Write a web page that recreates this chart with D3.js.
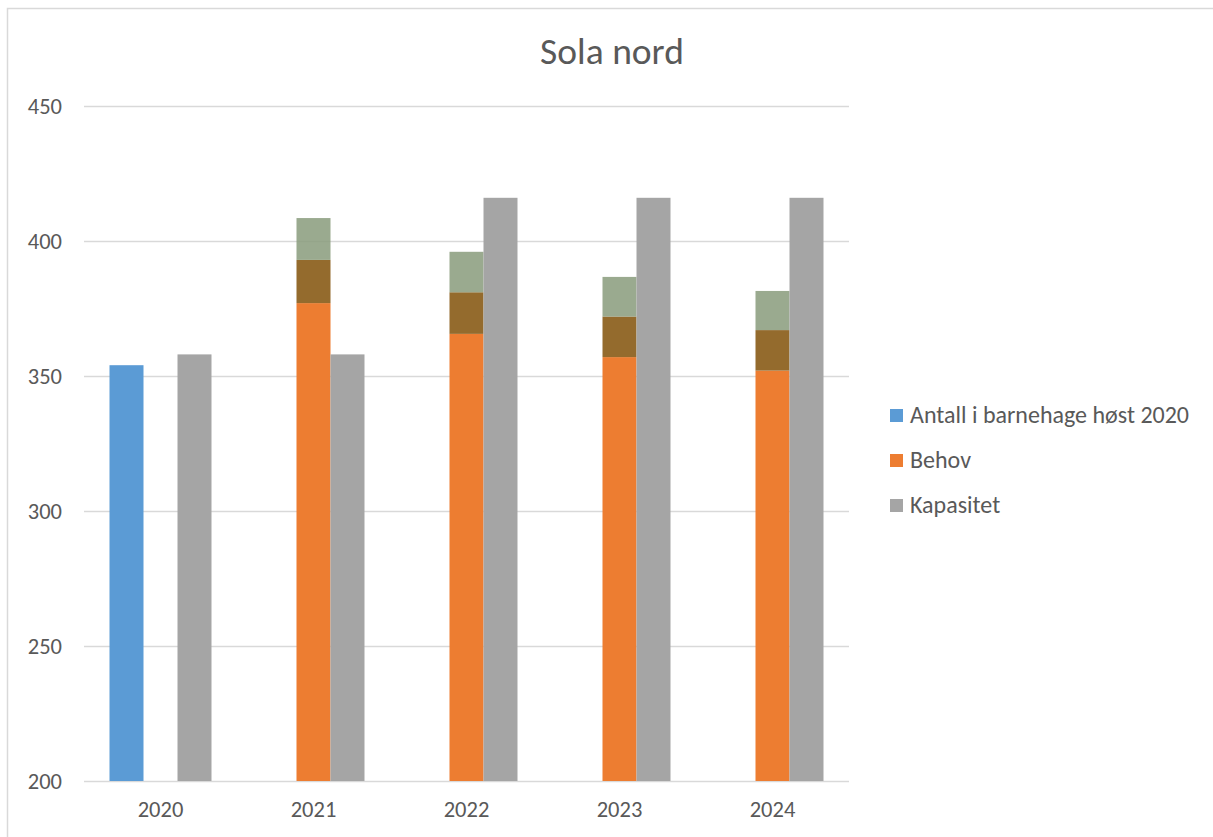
<!DOCTYPE html>
<html>
<head>
<meta charset="utf-8">
<script src="https://cdnjs.cloudflare.com/ajax/libs/d3/7.8.5/d3.min.js"></script>
<style>
  html, body { margin: 0; padding: 0; background: #fff; }
  svg { display: block; font-family: Carlito, "Open Sans", "Noto Sans", sans-serif; }
</style>
</head>
<body>
<svg id="chart" width="1213" height="837"></svg>
<script>
const categories = ["2020", "2021", "2022", "2023", "2024"];
const antall = [354, null, null, null, null];
const behov = [null, 377, 365.6, 357, 352];
const behovLevel2 = [null, 393, 381, 372, 367];
const behovLevel3 = [null, 408.5, 396, 386.7, 381.5];
const kapasitet = [358, 358, 416, 416, 416];
const yTicks = [200, 250, 300, 350, 400, 450];
const legendLabels = ["Antall i barnehage høst 2020", "Behov", "Kapasitet"];
const colors = ["#5b9bd5", "#ed7d31", "#a5a5a5"];

const svg = d3.select("#chart");
const W = 1213, H = 837;

// outer chart border
svg.append("rect").attr("x", 7.5).attr("y", 8.5).attr("width", W).attr("height", H)
  .attr("fill", "none").attr("stroke", "#d9d9d9").attr("stroke-width", 1.5);

const plot = { left: 84, right: 849, top: 106, bottom: 781 };

const x = d3.scaleBand().domain(categories).range([plot.left, plot.right]).paddingInner(0).paddingOuter(0);
const slot = d3.scaleBand().domain(["a", "b", "k"]).range([0, x.bandwidth()]).paddingOuter(0.75).paddingInner(0);
const y = d3.scaleLinear().domain([200, 450]).range([plot.bottom, plot.top]);

// gridlines
svg.append("g").selectAll("line").data(yTicks).join("line")
  .attr("x1", plot.left).attr("x2", plot.right)
  .attr("y1", d => Math.round(y(d)) + 0.5).attr("y2", d => Math.round(y(d)) + 0.5)
  .attr("stroke", "#d9d9d9").attr("stroke-width", 1.3);

// y-axis labels
const yAxis = d3.axisLeft(y).tickValues(yTicks).tickSize(0).tickPadding(22);
const gy = svg.append("g").attr("transform", `translate(${plot.left},0)`).call(yAxis);
gy.select(".domain").remove();
gy.selectAll("text").attr("font-size", 22.5).attr("fill", "#595959")
  .attr("font-family", "Carlito, 'Open Sans', sans-serif");

// x-axis labels
const xAxis = d3.axisBottom(x).tickSize(0).tickPadding(20);
const gx = svg.append("g").attr("transform", `translate(0,${plot.bottom})`).call(xAxis);
gx.select(".domain").remove();
gx.selectAll("text").attr("font-size", 22.5).attr("fill", "#595959")
  .attr("font-family", "Carlito, 'Open Sans', sans-serif");

const bars = svg.append("g");
function drawSeries(values, key, color, baseValues, opacity) {
  bars.append("g").selectAll("rect")
    .data(categories.map((c, i) => ({ c, v: values[i], b: baseValues ? baseValues[i] : 200 })).filter(d => d.v != null))
    .join("rect")
    .attr("x", d => x(d.c) + slot(key))
    .attr("width", slot.bandwidth())
    .attr("y", d => y(d.v))
    .attr("height", d => y(d.b) - y(d.v))
    .attr("fill", color)
    .attr("fill-opacity", opacity || 1);
}
drawSeries(antall, "a", colors[0]);
drawSeries(behov, "b", colors[1]);
drawSeries(behovLevel2, "b", "#946b2d", behov);
drawSeries(behovLevel3, "b", "#889b7b", behovLevel2, 0.85);
drawSeries(kapasitet, "k", colors[2]);

// title
svg.append("text").attr("x", 612).attr("y", 64).attr("text-anchor", "middle")
  .attr("font-size", 37.5).attr("fill", "#595959").text("Sola nord");

// legend
const lg = svg.append("g");
legendLabels.forEach((lab, i) => {
  const cy = 415 + i * 45;
  lg.append("rect").attr("x", 890).attr("y", cy - 6).attr("width", 13).attr("height", 13).attr("fill", colors[i]);
  lg.append("text").attr("x", 910).attr("y", cy).attr("dy", "0.35em")
    .attr("font-size", 24).attr("fill", "#595959").text(lab);
});
</script>
</body>
</html>
